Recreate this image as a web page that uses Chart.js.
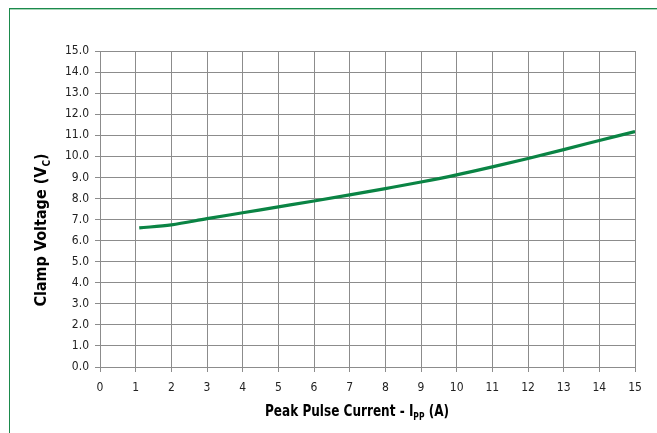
<!DOCTYPE html>
<html><head><meta charset="utf-8">
<script src="https://cdn.jsdelivr.net/npm/chart.js@4/dist/chart.umd.min.js"></script>
<style>
html,body{margin:0;padding:0;background:#fff;}
#wrap{position:relative;width:657px;height:433px;}
#frame{position:absolute;left:9px;top:8px;width:660px;height:440px;border-top:1px solid #1b8a4c;border-left:1px solid #1b8a4c;box-shadow:0 1px 0 #a8d5b8 inset;}
canvas{position:absolute;left:0;top:0;}
</style></head><body>
<div id="wrap"><div id="frame"></div><canvas id="c" width="657" height="433"></canvas></div>
<script>
const currents = [1.1, 2, 3, 4, 5, 6, 7, 8, 9, 10, 11, 12, 13, 14, 15];
const clampVoltage = [6.6, 6.75, 7.04, 7.32, 7.6, 7.88, 8.17, 8.47, 8.78, 9.12, 9.5, 9.9, 10.32, 10.75, 11.18];
const xTitle = ['Peak Pulse Current - I', 'PP', ' (A)'];
const yTitle = ['Clamp Voltage (V', 'C', ')'];
const FONT = '"Liberation Sans Narrow","DejaVu Sans Condensed","Arial Narrow",sans-serif';

function drawSubTitle(ctx, parts, size, targetWidth) {
  const main = 'bold ' + size + 'px ' + FONT;
  const sub = 'bold ' + Math.round(size * 0.6) + 'px ' + FONT;
  ctx.font = main; const w0 = ctx.measureText(parts[0]).width; const w2 = ctx.measureText(parts[2]).width;
  ctx.font = sub; const w1 = ctx.measureText(parts[1]).width;
  const total = w0 + w1 + w2;
  const k = Math.min(1, targetWidth / total);
  ctx.scale(k, 1);
  let x = -total / 2;
  ctx.textBaseline = 'alphabetic'; ctx.textAlign = 'left';
  ctx.font = main; ctx.fillText(parts[0], x, 0); x += w0;
  ctx.font = sub; ctx.fillText(parts[1], x, size * 0.28); x += w1;
  ctx.font = main; ctx.fillText(parts[2], x, 0);
}

const titles = {
  id: 'titles',
  afterDraw(chart) {
    const ctx = chart.ctx;
    ctx.save(); ctx.fillStyle = '#000';
    ctx.translate(357, 416);
    drawSubTitle(ctx, xTitle, 16, 184);
    ctx.restore();
    ctx.save(); ctx.fillStyle = '#000';
    ctx.translate(46, 230);
    ctx.rotate(-Math.PI / 2);
    drawSubTitle(ctx, yTitle, 16, 155);
    ctx.restore();
  }
};

new Chart(document.getElementById('c'), {
  type: 'line',
  data: { datasets: [{
    data: currents.map((x, i) => ({ x: x, y: clampVoltage[i] })),
    borderColor: '#0a8444', borderWidth: 3.2, pointRadius: 0, tension: 0.4, cubicInterpolationMode: 'monotone', fill: false
  }]},
  options: {
    responsive: false, animation: false, devicePixelRatio: 1,
    layout: { padding: { left: 0, right: 22, top: 51, bottom: 0 } },
    plugins: { legend: { display: false }, tooltip: { enabled: false } },
    scales: {
      x: {
        type: 'linear', min: 0, max: 15,
        afterFit(s) { s.height = 66; },
        ticks: { stepSize: 1, color: '#222', font: { family: FONT, size: 12 }, padding: 9, maxRotation: 0, autoSkip: false },
        grid: { color: '#8c8c8c', lineWidth: 1, tickLength: 5, drawTicks: true },
        border: { color: '#8c8c8c', width: 1 }
      },
      y: {
        min: 0, max: 15,
        afterFit(s) { s.width = 100; },
        ticks: { stepSize: 1, color: '#222', font: { family: FONT, size: 12 }, padding: 6, callback: v => v.toFixed(1), autoSkip: false },
        grid: { color: '#8c8c8c', lineWidth: 1, tickLength: 5, drawTicks: true },
        border: { color: '#8c8c8c', width: 1 }
      }
    }
  },
  plugins: [titles]
});
</script>
</body></html>
